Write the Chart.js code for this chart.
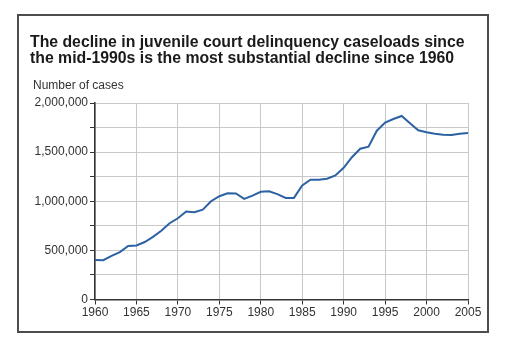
<!DOCTYPE html>
<html>
<head>
<meta charset="utf-8">
<title>Juvenile court delinquency caseloads</title>
<script src="https://cdn.jsdelivr.net/npm/chart.js@4.4.0/dist/chart.umd.min.js"></script>
<style>
    html, body { margin: 0; padding: 0; background: #ffffff; }
    #wrap { position: relative; width: 505px; height: 345px; }
</style>
</head>
<body>
<div id="wrap"><canvas id="myChart" width="505" height="345"></canvas></div>
<script>
// Dados: casos de delinquência por ano (1960-2005)
const anos = [
    1960, 1961, 1962, 1963, 1964, 1965, 1966, 1967, 1968, 1969,
    1970, 1971, 1972, 1973, 1974, 1975, 1976, 1977, 1978, 1979,
    1980, 1981, 1982, 1983, 1984, 1985, 1986, 1987, 1988, 1989,
    1990, 1991, 1992, 1993, 1994, 1995, 1996, 1997, 1998, 1999,
    2000, 2001, 2002, 2003, 2004, 2005
];
const casos = [
    402000, 400000, 445000, 482000, 545000, 550000, 585000, 637000, 700000, 776000,
    827000, 895000, 888000, 915000, 1000000, 1051000, 1082000, 1080000, 1024000, 1057000,
    1096000, 1102000, 1072000, 1034000, 1034000, 1160000, 1220000, 1220000, 1230000, 1262000,
    1340000, 1448000, 1535000, 1556000, 1718000, 1800000, 1837000, 1868000, 1794000, 1722000,
    1702000, 1688000, 1678000, 1675000, 1688000, 1695000
];
const rotulosEixoX = [1960, 1965, 1970, 1975, 1980, 1985, 1990, 1995, 2000, 2005];
const titulo = [
    "The decline in juvenile court delinquency caseloads since",
    "the mid-1990s is the most substantial decline since 1960"
];
const tituloEixoY = "Number of cases";

document.addEventListener("DOMContentLoaded", function () {
    const fonte = "'Liberation Sans', Arial, sans-serif";

    // Moldura e cabeçalho desenhados direto no canvas
    const cabecalho = {
        id: "cabecalho",
        beforeDraw(chart) {
            const ctx = chart.ctx;
            ctx.save();
            ctx.strokeStyle = "#4d4d4d";
            ctx.lineWidth = 2;
            ctx.strokeRect(18, 15, 470, 317);

            ctx.fillStyle = "#1a1a1a";
            ctx.font = "bold 15.8px " + fonte;
            ctx.textBaseline = "alphabetic";
            ctx.fillText(titulo[0], 30, 46.5);
            ctx.fillText(titulo[1], 30, 62.5);

            ctx.fillStyle = "#333333";
            ctx.font = "12px " + fonte;
            ctx.fillText(tituloEixoY, 33, 89);
            ctx.restore();
        }
    };

    const pontos = anos.map((ano, i) => ({ x: ano, y: casos[i] }));

    const ctx = document.getElementById("myChart").getContext("2d");
    new Chart(ctx, {
        type: "line",
        data: {
            datasets: [{
                label: tituloEixoY,
                data: pontos,
                borderColor: "#2c62a3",
                borderWidth: 2,
                pointRadius: 0,
                tension: 0,
            }],
        },
        options: {
            responsive: false,
            animation: false,
            layout: {
                padding: { left: 0, right: 37, top: 103, bottom: 0 },
            },
            plugins: {
                legend: { display: false },
                tooltip: { enabled: false },
            },
            scales: {
                x: {
                    type: "linear",
                    min: 1960,
                    max: 2005,
                    afterBuildTicks: (scale) => {
                        scale.ticks = rotulosEixoX.map(v => ({ value: v }));
                    },
                    afterFit: (scale) => { scale.height = 45.5; },
                    grid: {
                        color: "#c8c8c8",
                        tickColor: "#333333",
                        tickLength: 5,
                        lineWidth: 1,
                    },
                    border: { color: "#333333", width: 1.5 },
                    ticks: {
                        color: "#333333",
                        font: { family: fonte, size: 12 },
                        padding: 1,
                        maxRotation: 0,
                        callback: (v) => String(v),
                    },
                },
                y: {
                    min: 0,
                    max: 2000000,
                    afterFit: (scale) => { scale.width = 95; },
                    grid: {
                        color: "#c8c8c8",
                        tickColor: "#333333",
                        tickLength: 5,
                        lineWidth: 1,
                    },
                    border: { color: "#333333", width: 1.5 },
                    ticks: {
                        stepSize: 250000,
                        color: "#333333",
                        font: { family: fonte, size: 12 },
                        padding: 2,
                        callback: (v) => v % 500000 === 0 ? v.toLocaleString("en-US") : "",
                    },
                },
            },
        },
        plugins: [cabecalho],
    });
});
</script>
</body>
</html>
